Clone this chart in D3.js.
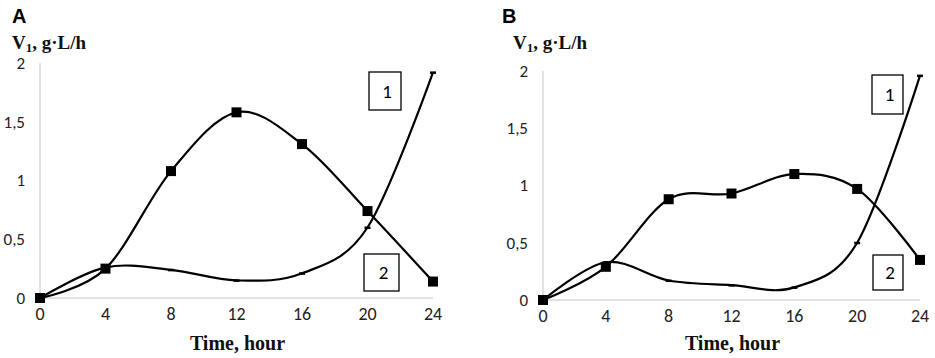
<!DOCTYPE html>
<html>
<head>
<meta charset="utf-8">
<script src="https://cdn.jsdelivr.net/npm/d3@7"></script>
<style>
  body { margin: 0; background: #fff; }
  svg { display: block; }
  .tick-label { font-family: Carlito, Lato, "Liberation Sans", sans-serif; font-size: 17px; fill: #222; }
  .serif-bold { font-family: "Liberation Serif", "Times New Roman", serif; font-weight: bold; fill: #111; }
</style>
</head>
<body>
<div id="chart"></div>
<script>
const hours = [0, 4, 8, 12, 16, 20, 24];
const yTicks = [0, 0.5, 1, 1.5, 2];
const yTickLabels = ["0", "0,5", "1", "1,5", "2"];

// panel A
const a1 = [0, 0.25, 1.08, 1.58, 1.31, 0.74, 0.14];
const a2 = [0, 0.26, 0.24, 0.15, 0.21, 0.60, 1.92];
// panel B
const b1 = [0, 0.29, 0.88, 0.93, 1.10, 0.97, 0.35];
const b2 = [0, 0.33, 0.17, 0.13, 0.11, 0.50, 1.96];

const width = 935;
const height = 358;

const svg = d3.select("#chart")
    .append("svg")
    .attr("width", width)
    .attr("height", height);

function panel(letter, s1, s2, xr, yr, letterX, titleX, boxes) {
  const x = d3.scaleLinear().domain([0, 24]).range(xr);
  const y = d3.scaleLinear().domain([0, 2]).range(yr);
  const g = svg.append("g");

  // axis lines (light grey like Excel)
  g.append("line")
      .attr("x1", x(0)).attr("x2", x(0))
      .attr("y1", y(2)).attr("y2", y(0))
      .attr("stroke", "#d9d9d9").attr("stroke-width", 1.5);
  g.append("line")
      .attr("x1", x(0)).attr("x2", x(24))
      .attr("y1", y(0)).attr("y2", y(0))
      .attr("stroke", "#d9d9d9").attr("stroke-width", 1.5);

  g.selectAll(".ytl")
    .data(yTicks)
    .join("text")
      .attr("class", "tick-label")
      .attr("x", x(0) - 15)
      .attr("y", d => y(d))
      .attr("dy", "0.35em")
      .attr("text-anchor", "end")
      .text((d, i) => yTickLabels[i]);

  g.selectAll(".xtl")
    .data(hours)
    .join("text")
      .attr("class", "tick-label")
      .attr("x", d => x(d))
      .attr("y", y(0) + 22)
      .attr("text-anchor", "middle")
      .style("font-size", "18px")
      .text(d => d);

  const line = d3.line()
      .x((d, i) => x(hours[i]))
      .y(d => y(d))
      .curve(d3.curveCardinal.tension(0));

  [s1, s2].forEach(s => {
    g.append("path")
        .attr("d", line(s))
        .attr("fill", "none")
        .attr("stroke", "#000")
        .attr("stroke-width", 2.2);
  });

  // small dash markers for series 2
  g.selectAll(".m2")
    .data(s2)
    .join("rect")
      .attr("x", (d, i) => x(hours[i]) - 3)
      .attr("y", d => y(d) - 1)
      .attr("width", 6)
      .attr("height", 2.5)
      .attr("fill", "#000");

  // square markers for series 1
  g.selectAll(".m1")
    .data(s1)
    .join("rect")
      .attr("x", (d, i) => x(hours[i]) - 5)
      .attr("y", d => y(d) - 5)
      .attr("width", 10)
      .attr("height", 10)
      .attr("fill", "#000");

  // series label boxes
  boxes.forEach(b => {
    g.append("rect")
        .attr("x", b.x).attr("y", b.y)
        .attr("width", b.w).attr("height", b.h)
        .attr("fill", "#fff")
        .attr("stroke", "#000")
        .attr("stroke-width", 1.3);
    g.append("text")
        .attr("class", "tick-label")
        .attr("x", b.x + b.w / 2 + 2)
        .attr("y", b.y + b.h / 2)
        .attr("dy", "0.35em")
        .attr("text-anchor", "middle")
        .style("font-size", "19px")
        .style("fill", "#000")
        .text(b.label);
  });

  // panel letter
  g.append("text")
      .attr("x", letterX)
      .attr("y", 23)
      .style("font-family", "'Liberation Sans', Arial, sans-serif")
      .style("font-weight", "bold")
      .style("font-size", "20px")
      .text(letter);

  // y title
  const t = g.append("text")
      .attr("class", "serif-bold")
      .attr("x", titleX)
      .attr("y", 49)
      .style("font-size", "19px");
  t.append("tspan").text("V");
  t.append("tspan").attr("dy", 3).style("font-size", "13px").text("1");
  t.append("tspan").attr("dy", -3).text(", g\u00b7L/h");

  // x title
  g.append("text")
      .attr("class", "serif-bold")
      .attr("x", (xr[0] + xr[1]) / 2 + 1)
      .attr("y", 350)
      .attr("text-anchor", "middle")
      .style("font-size", "20px")
      .text("Time, hour");
}

panel("A", a1, a2, [40, 433], [298, 63], 12, 12, [
  { label: "1", x: 369, y: 72, w: 32, h: 38 },
  { label: "2", x: 364, y: 254, w: 35, h: 37 }
]);

panel("B", b1, b2, [543, 920], [300, 71], 502, 513, [
  { label: "1", x: 872, y: 75, w: 31, h: 39 },
  { label: "2", x: 873, y: 255, w: 30, h: 35 }
]);
</script>
</body>
</html>
